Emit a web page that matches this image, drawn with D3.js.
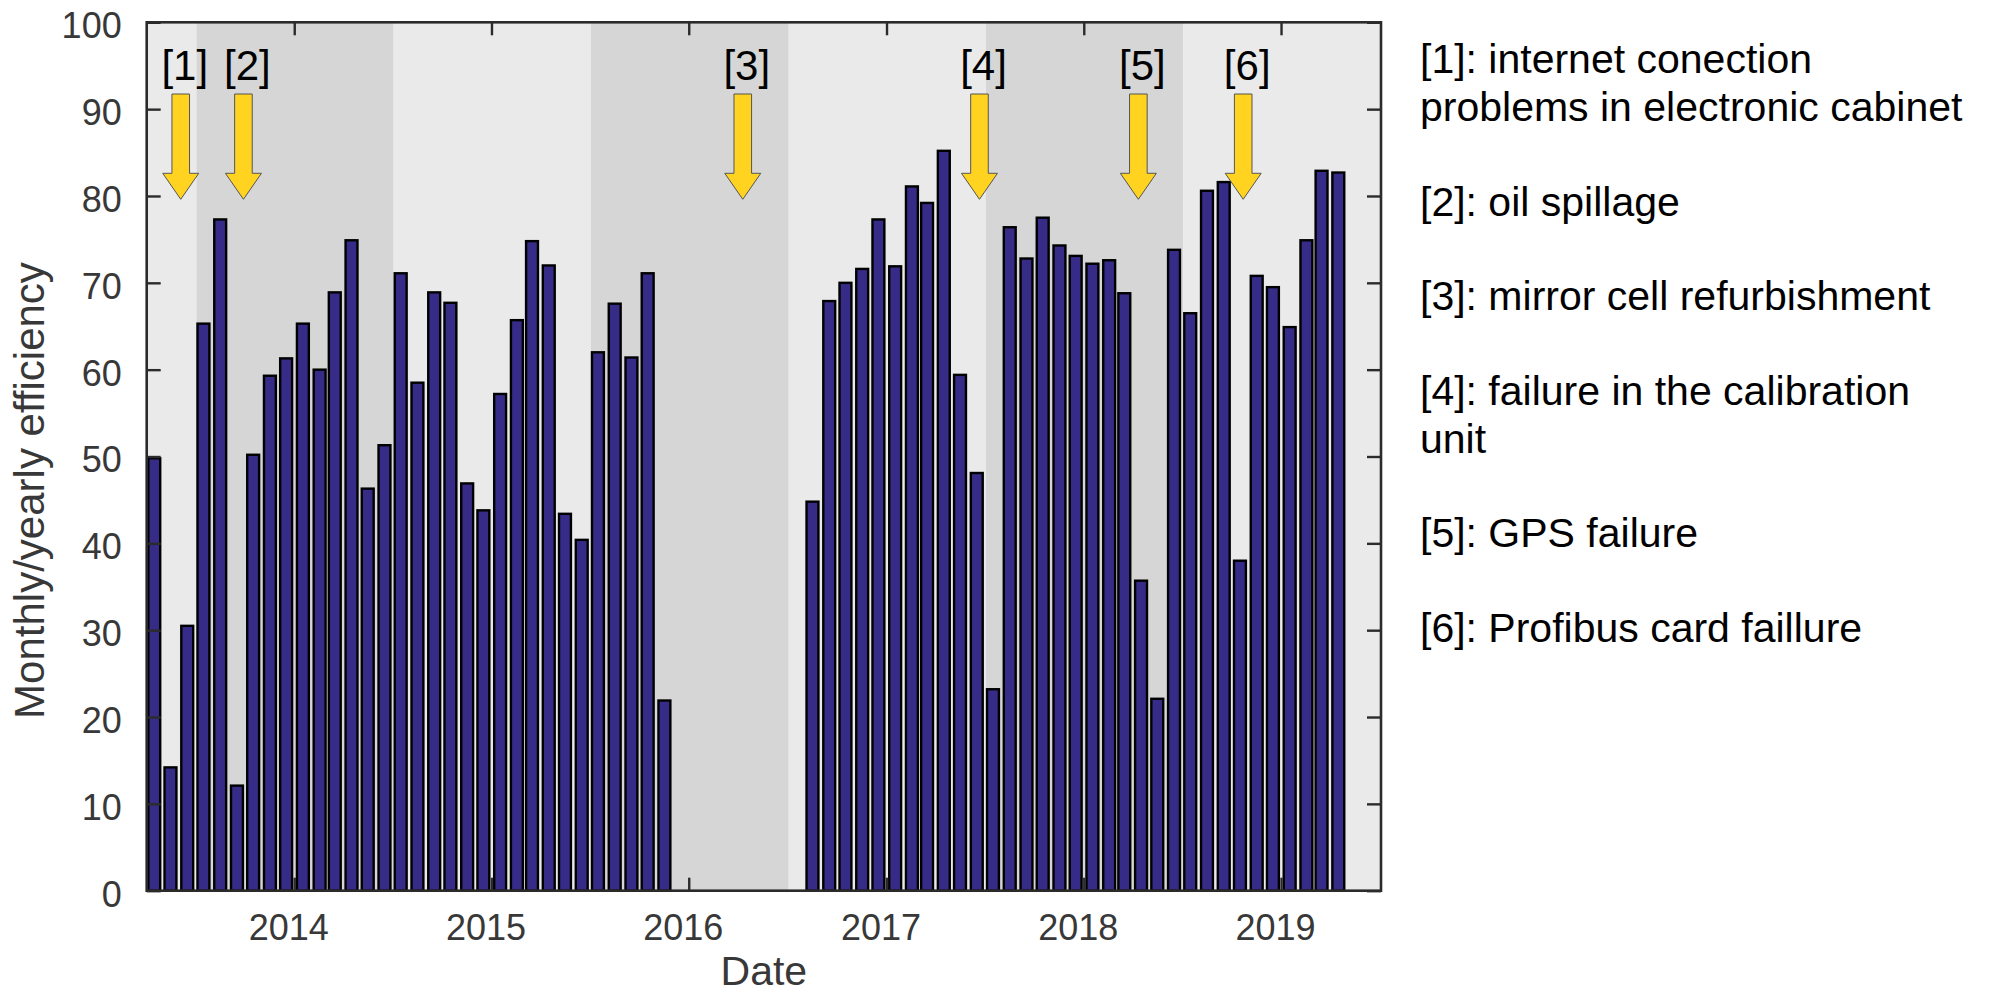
<!DOCTYPE html>
<html>
<head>
<meta charset="utf-8">
<script src="https://cdn.jsdelivr.net/npm/d3@7"></script>
<style>
  body { margin: 0; background: #fff; }
  text { font-family: "Liberation Sans", Arial, sans-serif; }
</style>
</head>
<body>
<svg id="chart" width="2012" height="997"></svg>
<script>
// monthly efficiency, Apr 2013 .. Apr 2019 (bars sit near the middle of each month)
const firstMonth = [2013, 3];
const efficiency = [
  49.8, 14.2, 30.5, 65.3, 77.3, 12.1, 50.2, 59.3, 61.3,                   // 2013 Apr-Dec
  65.3, 60.0, 68.9, 74.9, 46.3, 51.3, 71.1, 58.5, 68.9, 67.7, 46.9, 43.8, // 2014
  57.2, 65.7, 74.8, 72.0, 43.4, 40.4, 62.0, 67.6, 61.4, 71.1, 21.9, 0,    // 2015
  0, 0, 0, 0, 0, 0, 0, 44.8, 67.9, 70.0, 71.6, 77.3,                      // 2016
  71.9, 81.1, 79.2, 85.2, 59.4, 48.1, 23.2, 76.4, 72.8, 77.5, 74.3, 73.1, // 2017
  72.2, 72.6, 68.8, 35.7, 22.1, 73.8, 66.5, 80.6, 81.6, 38.0, 70.8, 69.5, // 2018
  64.9, 74.9, 82.9, 82.7                                                  // 2019 Jan-Apr
];

const yearTicks = [2014, 2015, 2016, 2017, 2018, 2019];
const yTicks = [0, 10, 20, 30, 40, 50, 60, 70, 80, 90, 100];

// alternating background bands (edges)
const bandEdges = ["2013-04-03", "2013-07-04", "2014-07-04", "2015-07-04",
                   "2016-07-04", "2017-07-04", "2018-07-04", "2019-07-05"];

const events = [
  { label: "[1]", date: "2013-06-05" },
  { label: "[2]", date: "2013-09-29" },
  { label: "[3]", date: "2016-04-10" },
  { label: "[4]", date: "2017-06-22" },
  { label: "[5]", date: "2018-04-12" },
  { label: "[6]", date: "2018-10-23" }
];

const legendLines = [
  "[1]: internet conection",
  "problems in electronic cabinet",
  "",
  "[2]: oil spillage",
  "",
  "[3]: mirror cell refurbishment",
  "",
  "[4]: failure in the calibration",
  "unit",
  "",
  "[5]: GPS failure",
  "",
  "[6]: Profibus card faillure"
];

const svg = d3.select("#chart");
const pLeft = 146.7, pTop = 22.3, pRight = 1381, pBottom = 890.7;
const axisColor = "#2b2b2b";
const tickColor = "#383838";

const parse = d3.utcParse("%Y-%m-%d");
const x = d3.scaleUtc()
  .domain([parse(bandEdges[0]), parse(bandEdges[bandEdges.length - 1])])
  .range([pLeft, pRight]);
const y = d3.scaleLinear().domain([0, 100]).range([pBottom, pTop]);

const bars = efficiency.map((v, i) => ({
  date: new Date(Date.UTC(firstMonth[0], firstMonth[1] + i, 17)),
  value: v
}));

svg.append("clipPath").attr("id", "plotclip")
  .append("rect")
  .attr("x", pLeft).attr("y", pTop)
  .attr("width", pRight - pLeft).attr("height", pBottom - pTop);

// background bands
const bands = d3.pairs(bandEdges.map(parse));
svg.append("g")
  .selectAll("rect")
  .data(bands)
  .join("rect")
  .attr("x", d => x(d[0]))
  .attr("y", pTop)
  .attr("width", d => x(d[1]) - x(d[0]))
  .attr("height", pBottom - pTop)
  .attr("fill", (d, i) => (i % 2 === 0) ? "#eaeaea" : "#d6d6d6");

// bars
const monthPx = x(new Date(Date.UTC(2014, 1, 1))) - x(new Date(Date.UTC(2014, 0, 1)));
const barW = monthPx * 0.71;
svg.append("g")
  .attr("clip-path", "url(#plotclip)")
  .selectAll("rect")
  .data(bars)
  .join("rect")
  .attr("x", d => x(d.date) - barW / 2)
  .attr("y", d => y(d.value))
  .attr("width", barW)
  .attr("height", d => y(0) - y(d.value))
  .attr("fill", "#372b88")
  .attr("stroke", "#000")
  .attr("stroke-width", 2.4);

// axes, ticks inward like a boxed plot
function styleAxis(g) {
  g.select(".domain").remove();
  g.selectAll(".tick line").attr("stroke", axisColor).attr("stroke-width", 2.4);
  g.selectAll(".tick text")
    .attr("fill", tickColor)
    .style("font-size", "36px")
    .style("font-family", "'Liberation Sans', Arial, sans-serif");
}

const yearDates = yearTicks.map(yr => new Date(Date.UTC(yr, 0, 1)));

svg.append("g")
  .attr("transform", "translate(" + pLeft + ",0)")
  .call(d3.axisLeft(y).tickValues(yTicks).tickSize(-14).tickPadding(25))
  .call(styleAxis)
  .call(g => g.selectAll(".tick text").attr("dy", "0.43em"));

svg.append("g")
  .attr("transform", "translate(" + pRight + ",0)")
  .call(d3.axisRight(y).tickValues(yTicks).tickSize(-14).tickFormat(""))
  .call(styleAxis);

svg.append("g")
  .attr("transform", "translate(0," + pBottom + ")")
  .call(d3.axisBottom(x).tickValues(yearDates).tickSize(-13).tickFormat(d3.utcFormat("%Y")))
  .call(styleAxis)
  .call(g => g.selectAll(".tick text").attr("y", 49).attr("dy", 0).attr("dx", -6));

svg.append("g")
  .attr("transform", "translate(0," + pTop + ")")
  .call(d3.axisTop(x).tickValues(yearDates).tickSize(-13).tickFormat(""))
  .call(styleAxis);

svg.append("rect")
  .attr("x", pLeft).attr("y", pTop)
  .attr("width", pRight - pLeft).attr("height", pBottom - pTop)
  .attr("fill", "none")
  .attr("stroke", axisColor)
  .attr("stroke-width", 2.6);

// event arrows and labels
const arrowTop = 94, headStart = 173.3, arrowTip = 199.3;
const shaftHalf = 8.8, headHalf = 18;
const ev = svg.append("g")
  .selectAll("g")
  .data(events)
  .join("g")
  .attr("transform", d => "translate(" + x(parse(d.date)) + ",0)");

ev.append("path")
  .attr("d", d3.line()([
    [-shaftHalf, arrowTop], [shaftHalf, arrowTop], [shaftHalf, headStart],
    [headHalf, headStart], [0, arrowTip], [-headHalf, headStart], [-shaftHalf, headStart]
  ]) + "Z")
  .attr("fill", "#ffd320")
  .attr("stroke", "#555")
  .attr("stroke-width", 1);

ev.append("text")
  .attr("x", 4)
  .attr("y", 80)
  .attr("text-anchor", "middle")
  .style("font-size", "42px")
  .attr("fill", "#000")
  .text(d => d.label);

// axis labels
svg.append("text")
  .attr("transform", "translate(44,490.5) rotate(-90)")
  .attr("text-anchor", "middle")
  .style("font-size", "42px")
  .attr("fill", tickColor)
  .text("Monthly/yearly efficiency");

svg.append("text")
  .attr("x", (pLeft + pRight) / 2)
  .attr("y", 985)
  .attr("text-anchor", "middle")
  .style("font-size", "41px")
  .attr("fill", tickColor)
  .text("Date");

// legend text block
svg.append("g")
  .selectAll("text")
  .data(legendLines)
  .join("text")
  .attr("x", 1420)
  .attr("y", (d, i) => 73.3 + i * 47.4)
  .style("font-size", "41px")
  .attr("fill", "#000")
  .text(d => d);
</script>
</body>
</html>
